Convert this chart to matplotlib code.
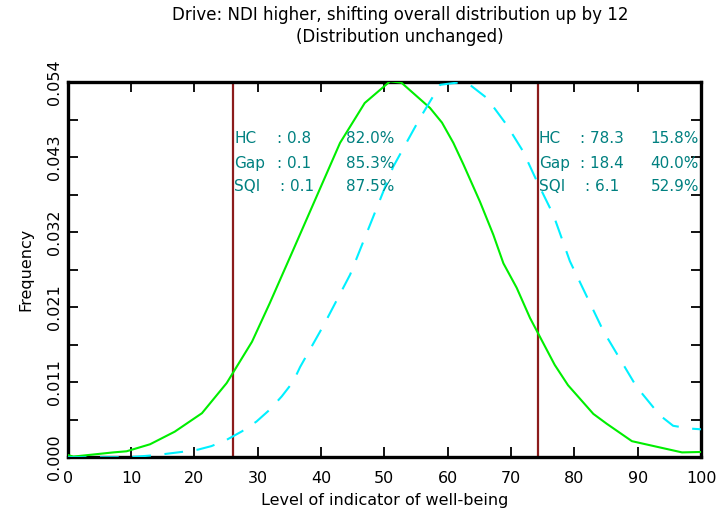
import matplotlib
matplotlib.use("Agg")
import matplotlib.pyplot as plt
import numpy as np

# ---- data ----
green_x = [0, 0.9, 7.2, 9.3, 13.0, 16.9, 21.2, 25.1, 29.1, 31.9, 35.6, 43.0, 46.9, 50.9,
           52.7, 57.2, 59.1, 60.9, 62.5, 65.1, 67.2, 68.8, 70.9, 73.0, 76.9, 79.0, 83.0,
           85.1, 89.1, 97.0, 100.0]
green_y = [0.00033, 0.0001, 0.0007, 0.00086, 0.00186, 0.00366, 0.0063, 0.0106, 0.0165,
           0.0220, 0.0296, 0.0449, 0.0506, 0.0537, 0.0535, 0.0499, 0.0478, 0.0449, 0.0418,
           0.0365, 0.0318, 0.0277, 0.0242, 0.0199, 0.0132, 0.0103, 0.0062, 0.0048, 0.0023,
           0.0007, 0.00076]

cyan_x = [0, 9.5, 13.8, 18.3, 20.6, 22.7, 25.1, 27.5, 29.8, 31.9, 33.8, 35.6, 36.7, 40.5,
          44.6, 51.4, 55.6, 58.8, 61.4, 63.5, 66.2, 69.3, 71.9, 74.1, 76.7, 79.3, 84.6,
          89.8, 93.5, 95.6, 98.3, 100.0]
cyan_y = [0.0, 0.0, 0.0003, 0.0008, 0.0011, 0.0016, 0.0025, 0.0037, 0.0051, 0.0068, 0.0087,
          0.0108, 0.0129, 0.0190, 0.0261, 0.0415, 0.0484, 0.0532, 0.0535, 0.0532, 0.0513,
          0.0475, 0.0437, 0.0394, 0.0346, 0.0280, 0.0180, 0.0101, 0.0060, 0.0045, 0.0041,
          0.0040]

poverty_line = 26.1
rich_line = 74.2

left_labels = ["HC", "Gap", "SQI"]
left_values = ["0.8", "0.1", "0.1"]
left_pcts = ["82.0%", "85.3%", "87.5%"]
right_labels = ["HC", "Gap", "SQI"]
right_values = ["78.3", "18.4", "6.1"]
right_pcts = ["15.8%", "40.0%", "52.9%"]

ymax = 0.0536
ytick_labels = ["0.000", "0.011", "0.021", "0.032", "0.043", "0.054"]
xticks = [0, 10, 20, 30, 40, 50, 60, 70, 80, 90, 100]

title = "Drive: NDI higher, shifting overall distribution up by 12\n(Distribution unchanged)"
xlabel = "Level of indicator of well-being"
ylabel = "Frequency"

# ---- figure ----
W, H = 721, 516
fig = plt.figure(figsize=(W / 100, H / 100), dpi=100)
L, R, B, T = 67.7 / W, 701 / W, 1 - 457.3 / H, 1 - 82 / H
ax = fig.add_axes([L, B, R - L, T - B])

ax.plot(green_x, green_y, color="#00ee00", lw=1.5, zorder=3)
ax.plot(cyan_x, cyan_y, color="#00f0ff", lw=1.5, dashes=(9, 6.5), zorder=3)
ax.axvline(poverty_line, color="#8c1c1c", lw=1.6, zorder=2)
ax.axvline(rich_line, color="#8c1c1c", lw=1.6, zorder=2)

ax.set_xlim(0, 100)
ax.set_ylim(0, ymax)

yt = np.linspace(0, ymax, 11)
ax.set_yticks(yt)
ax.set_yticklabels([ytick_labels[i // 2] if i % 2 == 0 else "" for i in range(11)],
                   rotation=90, va="center", fontsize=11.5)
ax.set_xticks(xticks)
ax.set_xticklabels([str(v) for v in xticks], fontsize=11.5)
ax.tick_params(axis="both", direction="in", length=7, width=1.3,
               top=True, right=True, colors="black")
ax.tick_params(axis="y", pad=4)
ax.tick_params(axis="x", pad=10)
for s in ax.spines.values():
    s.set_linewidth(2.4)

ax.set_xlabel(xlabel, fontsize=11.5, labelpad=5)
ax.set_ylabel(ylabel, fontsize=11.5, labelpad=10)
fig.text(400 / W, 1 - 26 / H, title, ha="center", va="center", fontsize=12,
         linespacing=1.35)

teal = "#008080"
rows_y = [138.3, 163.3, 186.7]
def px2data(px, py):
    return ((px - 67.7) / (701 - 67.7) * 100, (457.3 - py) / (457.3 - 82) * ymax)

fs = 11
for i in range(3):
    yy = rows_y[i]
    colx_l = 277 if i < 2 else 280
    for (px, s) in [(234, left_labels[i]), (colx_l, ": " + left_values[i]), (346, left_pcts[i])]:
        x, y = px2data(px, yy)
        ax.text(x, y, s, color=teal, fontsize=fs, ha="left", va="center", zorder=4)
    colx_r = 580 if i < 2 else 585
    for (px, s) in [(539, right_labels[i]), (colx_r, ": " + right_values[i])]:
        x, y = px2data(px, yy)
        ax.text(x, y, s, color=teal, fontsize=fs, ha="left", va="center", zorder=4)
    x, y = px2data(699, yy)
    ax.text(x, y, right_pcts[i], color=teal, fontsize=fs, ha="right", va="center", zorder=4)

fig.savefig("out.png", dpi=100)
